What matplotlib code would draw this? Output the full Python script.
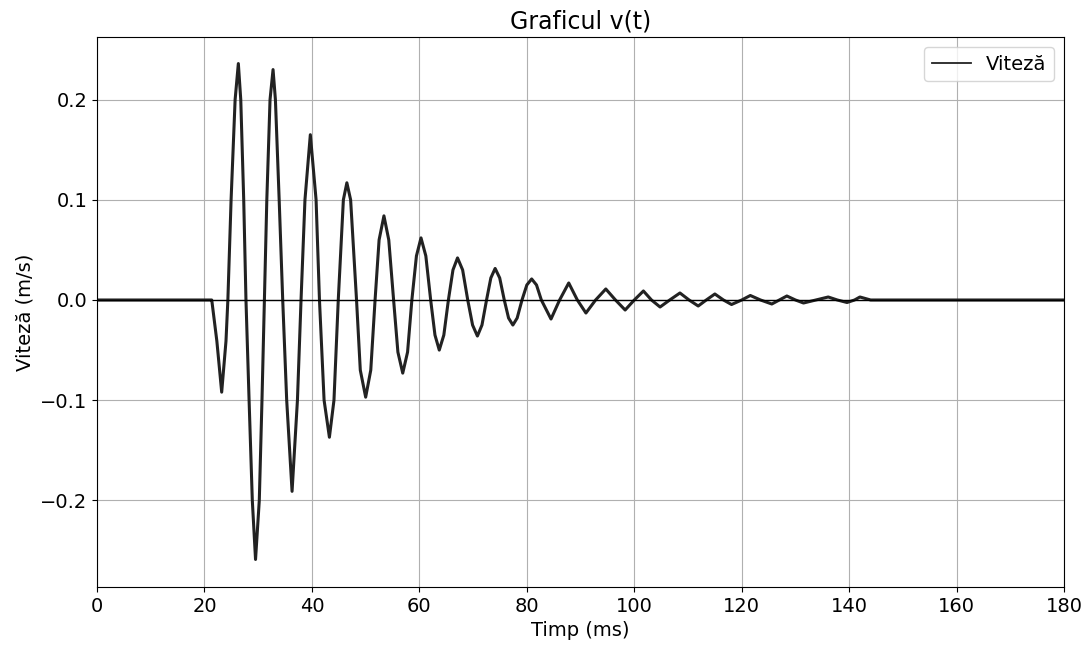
import matplotlib
matplotlib.use("Agg")
import matplotlib.pyplot as plt

# Time (ms) and velocity (m/s)
timp_ms = [
    0.0, 21.3, 21.35, 22.3, 23.2, 24.0, 24.35, 24.95, 25.7, 26.3, 26.75, 27.3,
    27.72, 28.3, 28.9, 29.5, 30.2, 30.7, 31.15, 31.6, 32.2, 32.76, 33.2, 33.9,
    34.56, 35.3, 36.3, 37.3, 37.97, 38.7, 39.7, 40.77, 41.4, 42.26, 43.25, 44.1,
    44.9, 45.85, 46.5, 47.2, 48.3, 49.0, 50.0, 50.95, 51.75, 52.5, 53.4, 54.3,
    55.2, 56.0, 56.9, 57.8, 58.6, 59.45, 60.3, 61.2, 62.1, 62.9, 63.7, 64.55,
    65.4, 66.25, 67.1, 68.05, 69.0, 69.9, 70.8, 71.65, 72.5, 73.3, 74.1, 74.95,
    75.8, 76.6, 77.4, 78.2, 79.1, 80.0, 80.9, 81.8, 82.7, 84.5, 86.1, 87.8, 89.4, 91.0, 92.8, 94.7,
    96.5, 98.3, 100.0, 101.7, 103.2, 104.8, 106.6, 108.5, 110.2, 111.9, 113.4,
    115.0, 116.6, 118.1, 120.0, 121.6, 123.5, 125.6, 127.0, 128.4, 130.0, 131.5,
    133.8, 136.1, 137.8, 139.6, 141.0, 142.0, 144.0, 180.0,
]
viteza = [
    0.0, 0.0, 0.0, -0.041, -0.092, -0.041, 0.0, 0.1, 0.2, 0.236, 0.2, 0.1,
    0.0, -0.1, -0.2, -0.259, -0.2, -0.1, 0.0, 0.1, 0.2, 0.230, 0.2, 0.1,
    0.0, -0.1, -0.191, -0.1, 0.0, 0.1, 0.165, 0.1, 0.0, -0.1, -0.137, -0.1,
    0.0, 0.1, 0.117, 0.1, 0.0, -0.07, -0.097, -0.07, 0.0, 0.06, 0.084, 0.06,
    0.0, -0.052, -0.073, -0.052, 0.0, 0.044, 0.062, 0.044, 0.0, -0.035, -0.050, -0.035,
    0.0, 0.03, 0.042, 0.03, 0.0, -0.025, -0.036, -0.025, 0.0, 0.022, 0.0315, 0.022,
    0.0, -0.018, -0.025, -0.018, 0.0, 0.015, 0.021, 0.015, 0.0, -0.019, 0.0, 0.017, 0.0, -0.013, 0.0, 0.011,
    0.0, -0.010, 0.0, 0.009, 0.0, -0.007, 0.0, 0.007, 0.0, -0.006, 0.0,
    0.006, 0.0, -0.0045, 0.0, 0.0045, 0.0, -0.004, 0.0, 0.004, 0.0, -0.003,
    0.0, 0.003, 0.0, -0.0025, 0.0, 0.003, 0.0, 0.0,
]

titlu = "Graficul v(t)"
eticheta_x = "Timp (ms)"
eticheta_y = "Viteză (m/s)"
legenda = "Viteză"
x_ticks = [0, 20, 40, 60, 80, 100, 120, 140, 160, 180]

fig = plt.figure(figsize=(10.88, 6.46), dpi=100)
ax = fig.add_axes([0.0892, 0.0913, 0.8888, 0.8514])

ax.plot(timp_ms, viteza, color="#222222", linewidth=2.2, label=legenda)
ax.axhline(0, color="black", linewidth=1.0)

ax.set_xlim(0, 180)
ax.set_xticks(x_ticks)
ax.set_ylim(-0.2865, 0.2625)
ax.grid(True, color="#b0b0b0", linewidth=0.8)

ax.set_title(titlu, fontsize=17)
ax.set_xlabel(eticheta_x, fontsize=14)
ax.set_ylabel(eticheta_y, fontsize=14)
ax.tick_params(labelsize=14)
leg = ax.legend(loc="upper right", fontsize=14)
leg.get_lines()[0].set_linewidth(1.3)

fig.savefig("out.png", dpi=100)
